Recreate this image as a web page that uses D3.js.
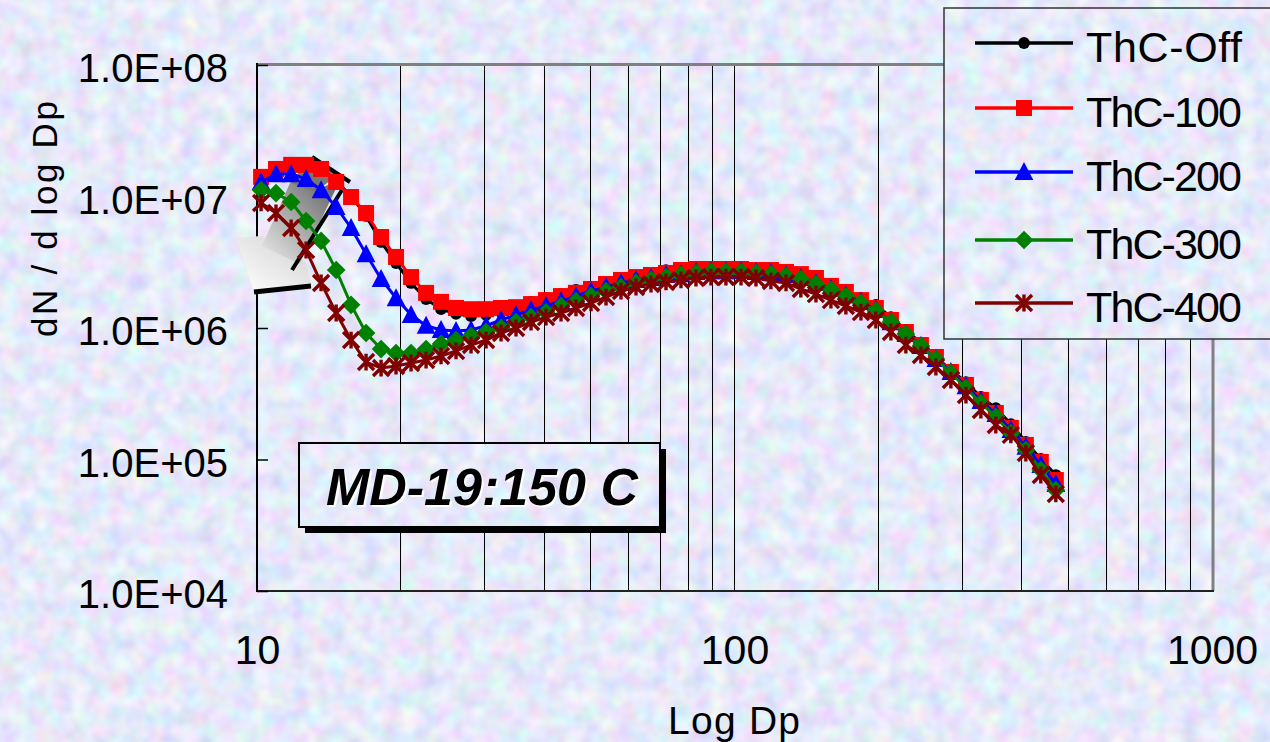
<!DOCTYPE html>
<html><head><meta charset="utf-8">
<script src="https://cdn.jsdelivr.net/npm/d3@7"></script>
<style>
html,body{margin:0;padding:0;background:#cdd6f2;}
svg{display:block;font-family:"Liberation Sans",Arial,sans-serif;}
</style></head>
<body>
<svg id="chart" width="1270" height="742"></svg>
<script>
// ---- data ----
const dp = [10.20,10.96,11.79,12.67,13.62,14.65,15.74,16.92,18.19,19.55,21.02,22.60,24.29,26.11,28.07,30.18,
  32.44,34.87,37.49,40.30,43.32,46.56,50.06,53.82,57.85,62.19,66.85,71.86,77.25,83.05,89.27,95.96,
  103.2,110.9,119.2,128.2,137.7,148.1,159.2,171.1,184.0,197.7,212.6,228.5,245.7,264.1,283.9,305.3,
  328.1,352.6,379.1,407.5,438.0,470.9];
const thcOff = [1.38e7,1.59e7,1.71e7,1.77e7,1.65e7,1.31e7,1.01e7,7.11e6,4.51e6,3.12e6,2.20e6,1.66e6,1.39e6,1.28e6,1.23e6,1.26e6,
  1.32e6,1.44e6,1.58e6,1.69e6,1.81e6,1.95e6,2.05e6,2.16e6,2.32e6,2.49e6,2.62e6,2.76e6,2.86e6,2.91e6,2.91e6,2.86e6,
  2.81e6,2.76e6,2.71e6,2.62e6,2.49e6,2.32e6,2.09e6,1.88e6,1.69e6,1.50e6,1.21e6,9.66e5,7.69e5,6.02e5,4.79e5,3.88e5,
  2.99e5,2.46e5,1.86e5,1.36e5,1.01e5,7.62e4];
const thc100 = [1.41e7,1.62e7,1.74e7,1.74e7,1.62e7,1.29e7,9.91e6,7.49e6,4.92e6,3.47e6,2.44e6,1.85e6,1.58e6,1.42e6,1.39e6,1.39e6,
  1.42e6,1.44e6,1.52e6,1.63e6,1.75e6,1.85e6,1.98e6,2.16e6,2.32e6,2.44e6,2.53e6,2.62e6,2.76e6,2.81e6,2.81e6,2.81e6,
  2.81e6,2.76e6,2.76e6,2.67e6,2.57e6,2.40e6,2.09e6,1.88e6,1.63e6,1.42e6,1.15e6,9.32e5,7.42e5,6.02e5,4.63e5,3.69e5,
  2.84e5,2.26e5,1.74e5,1.29e5,9.57e4,6.98e4];
const thc200 = [1.29e7,1.48e7,1.48e7,1.36e7,1.12e7,8.32e6,5.76e6,3.65e6,2.36e6,1.69e6,1.26e6,1.04e6,9.66e5,9.49e5,9.66e5,1.04e6,
  1.15e6,1.26e6,1.37e6,1.47e6,1.60e6,1.75e6,1.91e6,2.05e6,2.20e6,2.32e6,2.40e6,2.53e6,2.57e6,2.67e6,2.71e6,2.71e6,
  2.71e6,2.67e6,2.62e6,2.53e6,2.40e6,2.20e6,1.98e6,1.78e6,1.58e6,1.37e6,1.11e6,9.00e5,7.30e5,5.81e5,4.63e5,3.62e5,
  2.79e5,2.22e5,1.68e5,1.25e5,9.08e4,6.51e4];
const thc300 = [1.12e7,1.06e7,9.08e6,6.51e6,4.59e6,2.76e6,1.50e6,9.16e5,6.92e5,6.45e5,6.45e5,6.92e5,7.56e5,8.10e5,8.70e5,9.32e5,
  1.00e6,1.11e6,1.21e6,1.32e6,1.47e6,1.60e6,1.75e6,1.91e6,2.05e6,2.20e6,2.32e6,2.44e6,2.53e6,2.62e6,2.67e6,2.67e6,
  2.67e6,2.62e6,2.57e6,2.49e6,2.36e6,2.16e6,1.95e6,1.75e6,1.55e6,1.35e6,1.11e6,9.00e5,7.30e5,5.81e5,4.55e5,3.50e5,
  2.69e5,2.11e5,1.59e5,1.18e5,8.32e4,5.86e4];
const thc400 = [8.93e6,7.49e6,5.76e6,3.92e6,2.20e6,1.30e6,8.10e5,5.51e5,4.96e5,5.14e5,5.42e5,5.71e5,6.13e5,6.69e5,7.42e5,8.10e5,
  9.16e5,1.00e6,1.11e6,1.21e6,1.30e6,1.42e6,1.55e6,1.72e6,1.91e6,2.05e6,2.16e6,2.24e6,2.32e6,2.40e6,2.44e6,2.44e6,
  2.44e6,2.40e6,2.28e6,2.20e6,1.98e6,1.81e6,1.63e6,1.47e6,1.32e6,1.15e6,9.32e5,7.42e5,6.23e5,5.05e5,4.02e5,3.09e5,
  2.38e5,1.83e5,1.54e5,1.12e5,7.62e4,5.47e4];

const seriesNames = ["ThC-Off","ThC-100","ThC-200","ThC-300","ThC-400"];
const seriesValues = [thcOff, thc100, thc200, thc300, thc400];
const seriesColors = ["#000000","#ff0000","#0000ff","#008000","#800000"];
const seriesMarkers = ["circle","square","triangle","diamond","asterisk"];

const xTickValues = [10,100,1000];
const xTickLabels = ["10","100","1000"];
const xGridValues = [20,30,40,50,60,70,80,90,100,200,300,400,500,600,700,800,900];
const yTickValues = [1e4,1e5,1e6,1e7,1e8];
const yTickLabels = ["1.0E+04","1.0E+05","1.0E+06","1.0E+07","1.0E+08"];
const xTitle = "Log Dp";
const yTitle = "dN / d log Dp";
const noteText = "MD-19:150 C";

// ---- drawing ----
const svg = d3.select("#chart");
const L = 257, R = 1212, T = 65, B = 591;
const x = d3.scaleLog().domain([10,1000]).range([L,R]);
const y = d3.scaleLog().domain([1e4,1e8]).range([B,T]);

const defs = svg.append("defs");
const f = defs.append("filter").attr("id","tex").attr("filterUnits","userSpaceOnUse")
  .attr("x",0).attr("y",0).attr("width",1270).attr("height",742);
f.append("feTurbulence").attr("type","fractalNoise").attr("baseFrequency","0.055")
  .attr("numOctaves",2).attr("seed",7).attr("result","n");
f.append("feColorMatrix").attr("in","n").attr("type","matrix")
  .attr("values","0.5 0 0 0 0.54  0 0.46 0 0 0.59  0 0 0.3 0 0.8  0 0 0 0 1").attr("result","c");
f.append("feComposite").attr("in","c").attr("in2","SourceGraphic").attr("operator","in");

const gShaft = defs.append("linearGradient").attr("id","shaftG").attr("x1","0").attr("y1","1").attr("x2","1").attr("y2","0");
gShaft.append("stop").attr("offset","0").attr("stop-color","#ececec");
gShaft.append("stop").attr("offset","1").attr("stop-color","#5e5e5e");
const gHead = defs.append("linearGradient").attr("id","headG").attr("x1","0").attr("y1","1").attr("x2","1").attr("y2","0");
gHead.append("stop").attr("offset","0").attr("stop-color","#ffffff");
gHead.append("stop").attr("offset","1").attr("stop-color","#d0d0d0");

// background
svg.append("rect").attr("width",1270).attr("height",742).attr("fill","#fff").attr("filter","url(#tex)");

// vertical grid
svg.append("g").selectAll("line").data(xGridValues).join("line")
  .attr("x1",d=>x(d)).attr("x2",d=>x(d)).attr("y1",T).attr("y2",B)
  .attr("stroke","#000").attr("stroke-width",1).attr("shape-rendering","crispEdges");

// frame
svg.append("line").attr("x1",L).attr("x2",R+1).attr("y1",T-0.5).attr("y2",T-0.5).attr("stroke","#808080").attr("stroke-width",3);
svg.append("line").attr("x1",R+1).attr("x2",R+1).attr("y1",T-2).attr("y2",B).attr("stroke","#808080").attr("stroke-width",3);
svg.append("line").attr("x1",L).attr("x2",R+2).attr("y1",B).attr("y2",B).attr("stroke","#222").attr("stroke-width",2);
svg.append("line").attr("x1",L).attr("x2",L).attr("y1",T-2).attr("y2",B+1).attr("stroke","#000").attr("stroke-width",2);

// axes
const yAxis = d3.axisLeft(y).tickValues(yTickValues)
  .tickFormat((d,i)=>yTickLabels[i]).tickSizeInner(-11).tickSizeOuter(0).tickPadding(29);
const gy = svg.append("g").attr("transform",`translate(${L},0)`).call(yAxis);
gy.select(".domain").remove();
gy.selectAll(".tick line").attr("stroke","#000").attr("stroke-width",1.5);
gy.selectAll("text").attr("font-size",40).attr("fill","#000").attr("dy","0.42em")
  .attr("font-family","'Liberation Sans',Arial,sans-serif");

const xAxis = d3.axisBottom(x).tickValues(xTickValues)
  .tickFormat((d,i)=>xTickLabels[i]).tickSize(0).tickPadding(44);
const gx = svg.append("g").attr("transform",`translate(0,${B})`).call(xAxis);
gx.select(".domain").remove();
gx.selectAll("text").attr("font-size",41).attr("fill","#000")
  .attr("font-family","'Liberation Sans',Arial,sans-serif");

// titles
svg.append("text").attr("x",734).attr("y",734).attr("text-anchor","middle")
  .attr("font-size",39).attr("textLength",132).attr("lengthAdjust","spacing").text(xTitle);
svg.append("text").attr("transform","translate(57,219) rotate(-90)").attr("text-anchor","middle")
  .attr("font-size",35).attr("textLength",236).attr("lengthAdjust","spacing").text(yTitle);

// arrow annotation
svg.append("polygon").attr("points","236,238 262,236 306,262 312,286 254,292").attr("fill","url(#headG)");
svg.append("polygon").attr("points","262,246 290,183 316,190 340,180 300,264").attr("fill","url(#shaftG)");
svg.append("polygon").attr("points","290,183 312,157 338,174 316,192").attr("fill","#777");
svg.append("polyline").attr("points","312,157 350,182").attr("stroke","#000").attr("stroke-width",4).attr("fill","none");
svg.append("line").attr("x1",342).attr("y1",190).attr("x2",292).attr("y2",270).attr("stroke","#000").attr("stroke-width",4);
svg.append("line").attr("x1",254).attr("y1",292).attr("x2",311).attr("y2",286).attr("stroke","#000").attr("stroke-width",5);

// note box
svg.append("rect").attr("x",305).attr("y",449).attr("width",361).attr("height",84).attr("fill","#000");
svg.append("rect").attr("x",299).attr("y",443).attr("width",361).attr("height",84).attr("fill","#fff")
  .attr("filter","url(#tex)");
svg.append("rect").attr("x",299).attr("y",443).attr("width",361).attr("height",84).attr("fill","none")
  .attr("stroke","#000").attr("stroke-width",2);
svg.append("text").attr("x",484).attr("y",507).attr("text-anchor","middle").attr("font-size",52)
  .attr("font-weight","bold").attr("font-style","italic").attr("fill","#fff").text(noteText);
svg.append("text").attr("x",482).attr("y",505).attr("text-anchor","middle").attr("font-size",52)
  .attr("font-weight","bold").attr("font-style","italic").attr("fill","#000").text(noteText);

// markers
function drawMarker(g, type, color, cx, cy, s) {
  if (type==="circle") g.append("circle").attr("cx",cx).attr("cy",cy).attr("r",s*0.42).attr("fill",color);
  else if (type==="square") g.append("rect").attr("x",cx-s/2).attr("y",cy-s/2).attr("width",s).attr("height",s).attr("fill",color);
  else if (type==="triangle") g.append("path").attr("d",`M${cx},${cy-s*0.55}L${cx+s*0.52},${cy+s*0.45}L${cx-s*0.52},${cy+s*0.45}Z`).attr("fill",color);
  else if (type==="diamond") g.append("path").attr("d",`M${cx},${cy-s*0.55}L${cx+s*0.55},${cy}L${cx},${cy+s*0.55}L${cx-s*0.55},${cy}Z`).attr("fill",color);
  else if (type==="asterisk") {
    const h = s*0.5;
    g.append("path").attr("d",`M${cx-h},${cy-h}L${cx+h},${cy+h}M${cx-h},${cy+h}L${cx+h},${cy-h}M${cx},${cy-h*1.05}L${cx},${cy+h*1.05}`)
      .attr("stroke",color).attr("stroke-width",3.4).attr("fill","none");
  }
}
const markerSize = [14,16,18,17,16];
const line = d3.line().x(d=>x(d[0])).y(d=>y(d[1]));
seriesValues.forEach((vals,si)=>{
  const g = svg.append("g");
  const pts = dp.map((d,i)=>[d,vals[i]]);
  g.append("path").attr("d",line(pts)).attr("fill","none").attr("stroke",seriesColors[si]).attr("stroke-width",3);
  pts.forEach(p=>drawMarker(g, seriesMarkers[si], seriesColors[si], x(p[0]), y(p[1]), markerSize[si]));
});

// legend
const lg = svg.append("g");
lg.append("rect").attr("x",944).attr("y",8).attr("width",340).attr("height",331).attr("fill","#fff").attr("filter","url(#tex)");
lg.append("rect").attr("x",944).attr("y",8).attr("width",340).attr("height",331).attr("fill","none")
  .attr("stroke","#333").attr("stroke-width",1.5);
const rowY = [43,108,172,240,303];
seriesNames.forEach((n,i)=>{
  lg.append("line").attr("x1",975).attr("x2",1073).attr("y1",rowY[i]).attr("y2",rowY[i])
    .attr("stroke",seriesColors[i]).attr("stroke-width",3.5);
  drawMarker(lg, seriesMarkers[i], seriesColors[i], 1024, rowY[i], markerSize[i]);
  lg.append("text").attr("x",1086).attr("y",rowY[i]+19).attr("font-size",43)
    .attr("textLength",156).attr("lengthAdjust","spacing").text(n);
});
</script>
</body></html>
